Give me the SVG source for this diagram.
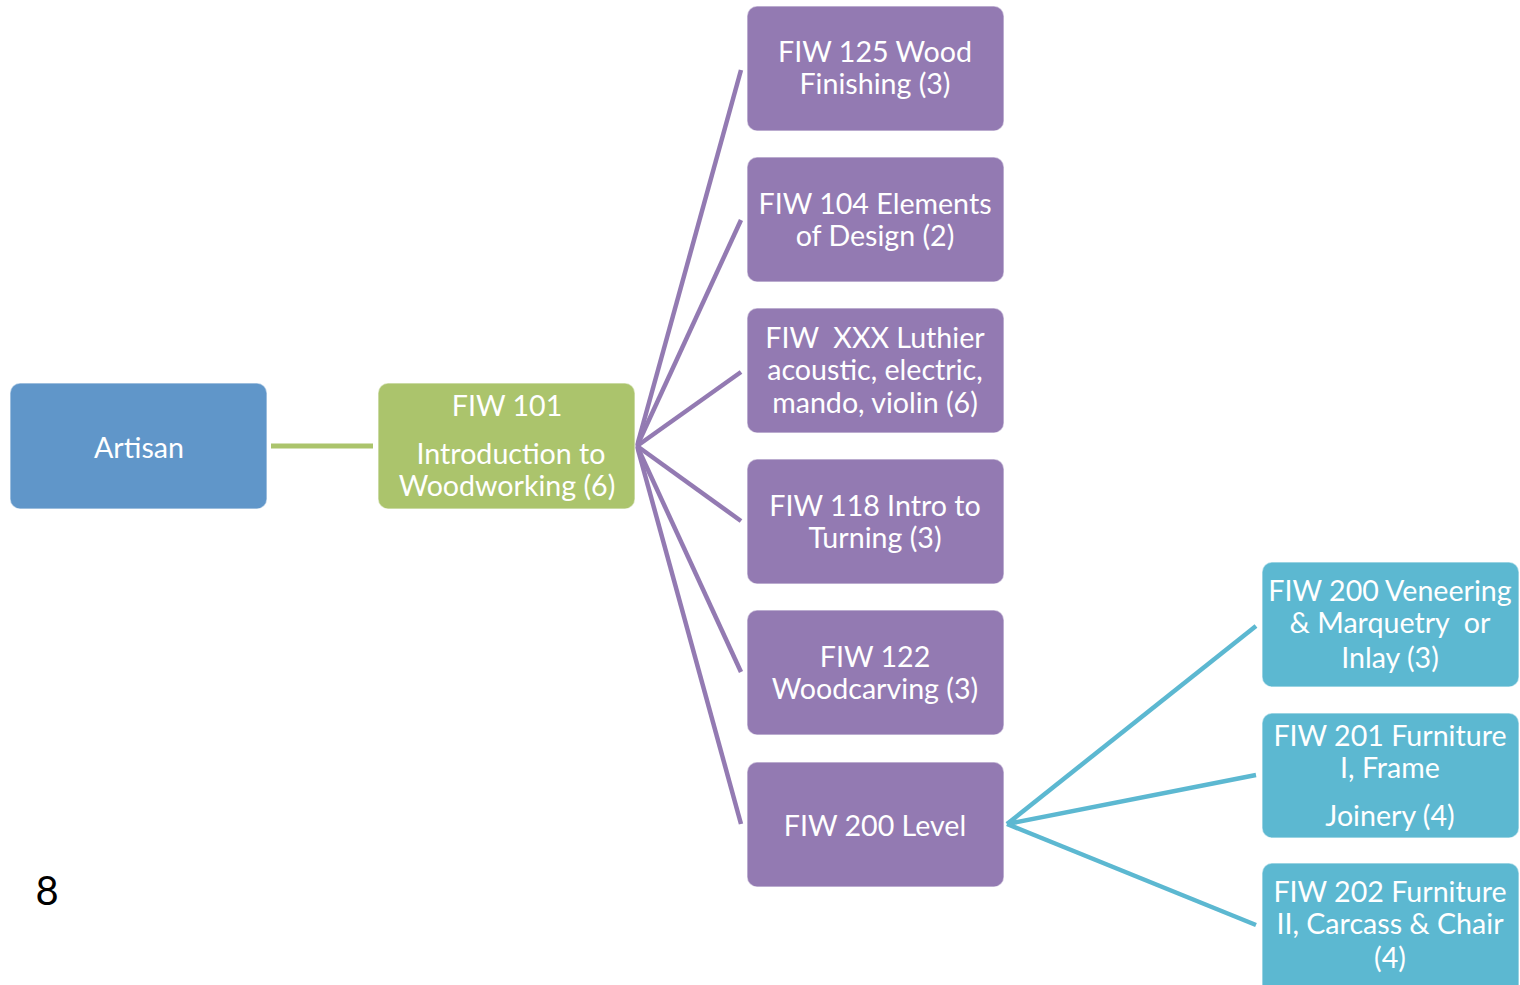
<svg xmlns="http://www.w3.org/2000/svg" width="1520" height="985" viewBox="0 0 1520 985">
<style>
.box{stroke:#ffffff;stroke-opacity:0.5;stroke-width:1.5}
.blue{fill:#6096C9}
.green{fill:#ABC46C}
.purple{fill:#937AB2}
.cyan{fill:#5CB8D1}
text{font-family:Lato,"Open Sans","Liberation Sans",sans-serif;font-size:28.6px;fill:#ffffff;text-anchor:middle}
.num{fill:#000000;font-size:40px}
.cg{stroke:#ABC46C;stroke-width:5;fill:none}
.cp{stroke:#937AB2;stroke-width:4.5;fill:none}
.cc{stroke:#5CB8D1;stroke-width:4.5;fill:none}
</style>
<rect width="1520" height="985" fill="#ffffff"/>
<g id="connectors">
<line class="cg" x1="271" y1="446" x2="373" y2="446"/>
<line class="cp" x1="637" y1="446" x2="741" y2="70"/>
<line class="cp" x1="637" y1="446" x2="741" y2="220"/>
<line class="cp" x1="637" y1="446" x2="741" y2="372"/>
<line class="cp" x1="637" y1="446" x2="741" y2="521"/>
<line class="cp" x1="637" y1="446" x2="741" y2="672"/>
<line class="cp" x1="637" y1="446" x2="741" y2="824"/>
<line class="cc" x1="1007" y1="824" x2="1256" y2="626"/>
<line class="cc" x1="1007" y1="824" x2="1256" y2="775"/>
<line class="cc" x1="1007" y1="824" x2="1256" y2="925"/>
</g>
<g id="artisan">
<rect class="box blue" x="10" y="383" width="257" height="126" rx="10"/>
<text x="139" y="458">Artisan</text>
</g>
<g id="fiw101">
<rect class="box green" x="378" y="383" width="257" height="126" rx="10"/>
<text x="507" y="416">FIW 101</text>
<text x="511" y="464">Introduction to</text>
<text x="507" y="496">Woodworking (6)</text>
</g>
<g id="fiw125">
<rect class="box purple" x="747" y="6" width="257" height="125" rx="10"/>
<text x="875" y="62">FIW 125 Wood</text>
<text x="875" y="94">Finishing (3)</text>
</g>
<g id="fiw104">
<rect class="box purple" x="747" y="157" width="257" height="125" rx="10"/>
<text x="875" y="214">FIW 104 Elements</text>
<text x="875" y="246">of Design (2)</text>
</g>
<g id="fiwxxx">
<rect class="box purple" x="747" y="308" width="257" height="125" rx="10"/>
<text x="875" y="348" xml:space="preserve">FIW  XXX Luthier</text>
<text x="875" y="380">acoustic, electric,</text>
<text x="875" y="413">mando, violin (6)</text>
</g>
<g id="fiw118">
<rect class="box purple" x="747" y="459" width="257" height="125" rx="10"/>
<text x="875" y="516">FIW 118 Intro to</text>
<text x="875" y="548">Turning (3)</text>
</g>
<g id="fiw122">
<rect class="box purple" x="747" y="610" width="257" height="125" rx="10"/>
<text x="875" y="667">FIW 122</text>
<text x="875" y="699">Woodcarving (3)</text>
</g>
<g id="fiw200level">
<rect class="box purple" x="747" y="762" width="257" height="125" rx="10"/>
<text x="875" y="836">FIW 200 Level</text>
</g>
<g id="fiw200">
<rect class="box cyan" x="1262" y="562" width="257" height="125" rx="10"/>
<text x="1390" y="601">FIW 200 Veneering</text>
<text x="1390" y="633" xml:space="preserve">&amp; Marquetry  or</text>
<text x="1390" y="668">Inlay (3)</text>
</g>
<g id="fiw201">
<rect class="box cyan" x="1262" y="713" width="257" height="125" rx="10"/>
<text x="1390" y="746">FIW 201 Furniture</text>
<text x="1390" y="778">I, Frame</text>
<text x="1390" y="826">Joinery (4)</text>
</g>
<g id="fiw202">
<rect class="box cyan" x="1262" y="863" width="257" height="135" rx="10"/>
<text x="1390" y="902">FIW 202 Furniture</text>
<text x="1390" y="934">II, Carcass &amp; Chair</text>
<text x="1390" y="968">(4)</text>
</g>
<text class="num" x="47" y="905">8</text>
</svg>
